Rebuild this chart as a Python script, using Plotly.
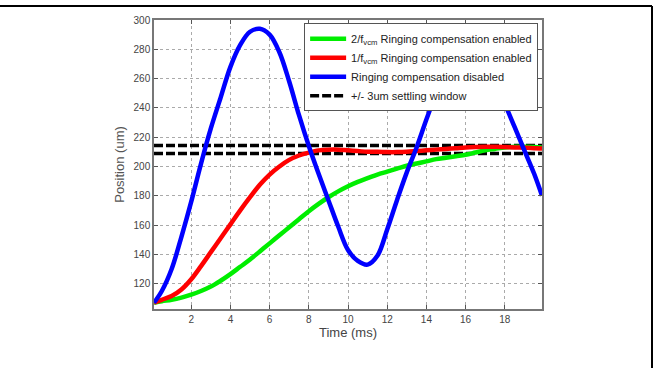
import plotly.graph_objects as go

# Time axis (ms)
time_ms = [0.1, 0.5, 1.0, 1.5, 2.0, 2.5, 3.0, 3.5, 4.0, 4.5, 5.0, 5.5, 6.0, 6.5, 7.0,
           7.5, 8.0, 8.5, 9.0, 9.5, 10.0, 10.5, 11.0, 11.5, 12.0, 12.5, 13.0, 13.5,
           14.0, 14.5, 15.0, 15.5, 16.0, 16.5, 17.0, 17.5, 18.0, 18.5, 19.0, 19.5, 19.9]

# Position (um) for each series
pos_2f = [107, 108, 109, 110.5, 112.5, 115, 118, 122, 126.5, 131.5, 136.5, 142, 147.5, 153, 158.5,
          164, 169.5, 174.5, 179, 183, 186.5, 189.5, 192, 194.5, 196.5, 198.5, 200.5, 202,
          203.5, 205, 206, 207, 208, 209.5, 211, 212, 213, 213.5, 213.5, 213.3, 213]
pos_1f = [107, 109, 111.5, 116, 123, 132, 141.5, 151, 160.5, 170, 179, 187.5, 194.5, 200, 204.5,
          207.5, 209.5, 211, 211.5, 211.5, 211, 210.5, 210, 210, 209.8, 209.8, 210, 210.5,
          211, 211.5, 212, 212.5, 213, 213.3, 213.5, 213.5, 213.3, 213, 212.8, 212.5, 212.3]
pos_off = [107, 115, 130, 152, 176, 202, 226, 247, 268, 283, 292, 294, 290, 278, 258,
           235, 214, 195, 177, 159, 143, 135.5, 133, 139, 157, 177, 196, 213,
           232, 250, 266, 277, 283, 282, 274, 260, 243, 227, 211, 195, 180]

window_x = [0.1, 19.9]
window_upper = 214.3
window_lower = 208.8

x_ticks = [2, 4, 6, 8, 10, 12, 14, 16, 18]
y_ticks = [120, 140, 160, 180, 200, 220, 240, 260, 280, 300]

fig = go.Figure()

dash_style = dict(color="black", width=3.5, dash="9px,3px")
fig.add_trace(go.Scatter(x=window_x, y=[window_upper, window_upper], mode="lines",
                         line=dash_style, name="+/- 3um settling window", legendrank=4))
fig.add_trace(go.Scatter(x=window_x, y=[window_lower, window_lower], mode="lines",
                         line=dash_style, showlegend=False))
fig.add_trace(go.Scatter(x=time_ms, y=pos_2f, mode="lines", line_shape="spline",
                         line=dict(color="#00ee00", width=4.5),
                         name="2/f<sub>vcm</sub> Ringing compensation enabled", legendrank=1))
fig.add_trace(go.Scatter(x=time_ms, y=pos_1f, mode="lines", line_shape="spline",
                         line=dict(color="#ff0000", width=4.5),
                         name="1/f<sub>vcm</sub> Ringing compensation enabled", legendrank=2))
fig.add_trace(go.Scatter(x=time_ms, y=pos_off, mode="lines", line_shape="spline",
                         line=dict(color="#0000ff", width=4.5),
                         name="Ringing compensation disabled", legendrank=3))

axis_common = dict(
    showline=True, linecolor="#777777", linewidth=1.5, mirror="ticks",
    ticks="inside", ticklen=4, tickcolor="#555555",
    showgrid=True, gridcolor="#aaaaaa", griddash="dot", gridwidth=1,
    zeroline=False, tickfont=dict(family="Liberation Sans, Arial", size=10, color="#444444"),
)

fig.update_xaxes(range=[0.1, 19.9], tickvals=x_ticks,
                 title=dict(text="Time (ms)", font=dict(family="Liberation Sans, Arial", size=13, color="#444444"), standoff=4),
                 **axis_common)
fig.update_yaxes(range=[102.7, 300], tickvals=y_ticks,
                 title=dict(text="Position (um)", font=dict(family="Liberation Sans, Arial", size=13, color="#555555"), standoff=6),
                 **axis_common)

fig.update_layout(
    width=654, height=368,
    margin=dict(l=154, r=112, t=20, b=59),
    paper_bgcolor="white", plot_bgcolor="white",
    font=dict(family="Liberation Sans, Arial", size=10, color="#333333"),
    legend=dict(x=0.99, y=0.989, xanchor="right", yanchor="top",
                bgcolor="white", bordercolor="#555555", borderwidth=1,
                font=dict(size=11, color="#222222"), tracegroupgap=0,
                itemwidth=36),
    shapes=[
        dict(type="line", xref="paper", yref="paper",
             x0=(0 - 154) / 388, x1=(652 - 154) / 388,
             y0=(309 - 6) / 289, y1=(309 - 6) / 289,
             line=dict(color="black", width=2)),
        dict(type="line", xref="paper", yref="paper",
             x0=(652 - 154) / 388, x1=(652 - 154) / 388,
             y0=(309 - 6) / 289, y1=(309 - 368) / 289,
             line=dict(color="black", width=2)),
    ],
)

fig.write_html("out.html", config={"displayModeBar": False},
               post_script="document.body.style.margin='0';")
